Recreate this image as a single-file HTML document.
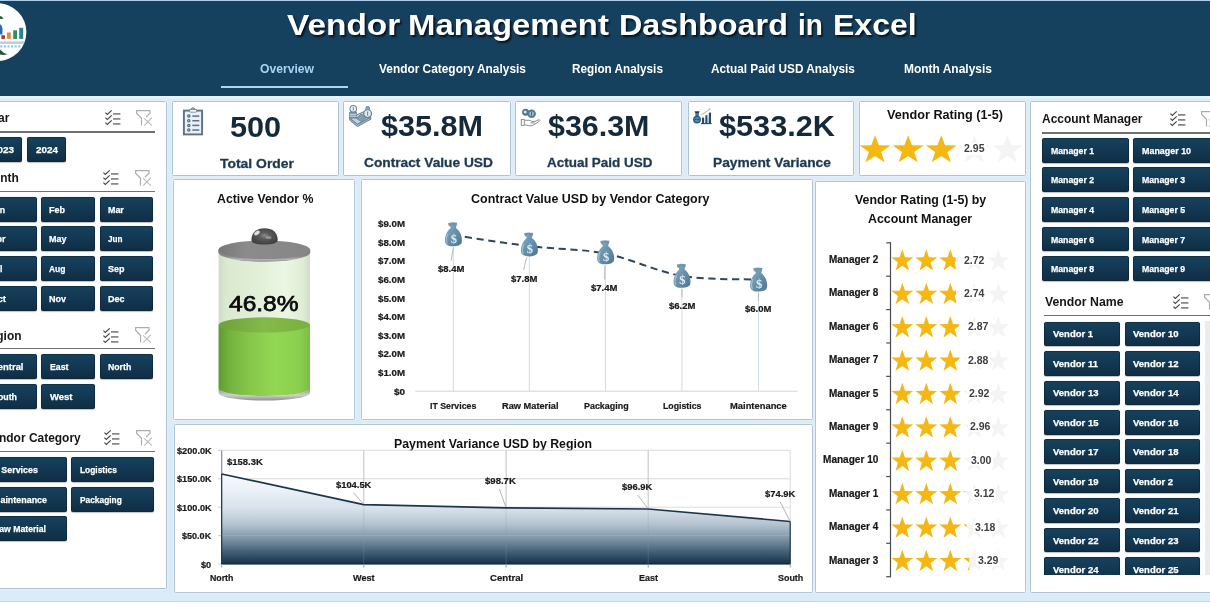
<!DOCTYPE html>
<html lang="en"><head><meta charset="utf-8"><title>Vendor Management Dashboard in Excel</title>
<style>
*{box-sizing:border-box;margin:0;padding:0}
html,body{width:1210px;height:612px;overflow:hidden;background:#fff}
body{font-family:"Liberation Sans",sans-serif;font-weight:700}
#page{position:relative;width:1210px;height:612px;overflow:hidden;will-change:transform}
.bg{position:absolute;left:0;top:0;width:1210px;height:602px;background:#dcebf8}
.hdr{position:absolute;left:0;top:0;width:1210px;height:95.5px;background:#16415e;border-top:1.5px solid #a9cbe6;box-shadow:0 0 0 0 #000, 0 2.5px 0 0 #e7f3fc}
.panel{position:absolute;background:#fff;border:1px solid #adc3d0;box-shadow:0 0 0 0.8px #e6f0f9;border-radius:1.5px}
.panel.c{border-color:#b1c6d3}
.btn{position:absolute;border-radius:2.5px;background:linear-gradient(#17425c,#133954 45%,#102d44);box-shadow:inset 0 0 0 0.6px rgba(10,30,48,.8),0 0.5px 1px rgba(0,0,0,.25)}
.t{position:absolute;white-space:nowrap;transform-origin:0 50%;display:block}
.hl{position:absolute;height:1.6px;background:#5a5f63}
svg{position:absolute;left:0;top:0;overflow:visible}
.clip{position:absolute;overflow:hidden}
.bl{-webkit-text-stroke:0.25px #fff}
.cl{-webkit-text-stroke:0.22px #1a1a1a}
.kl{-webkit-text-stroke:0.3px #1d3a52}

</style></head>
<body>
<div id="page">
<div class="bg"></div>
<div class="hdr"></div>
<div style="position:absolute;left:0;top:600.8px;width:1210px;height:1.4px;background:#c6d9e6"></div>
<svg width="60" height="70" viewBox="0 0 60 70">
<defs><clipPath id="lg"><circle cx="-2.5" cy="32.1" r="28.9"/></clipPath></defs>
<circle cx="-2.5" cy="32.1" r="28.9" fill="#fdfeff"/>
<g clip-path="url(#lg)">
<path d="M0 24.3 Q2.6 25.5 2.5 30 L2.4 34.6 H0 Z" fill="#2c6bb3"/>
<rect x="1.3" y="35.2" width="3.6" height="3.7" fill="#b5323b"/>
<rect x="7" y="32.5" width="3.8" height="6.4" fill="#e38c3c"/>
<rect x="13.2" y="30.3" width="3.8" height="8.6" fill="#2f8f5f"/>
<rect x="19.2" y="27.8" width="4" height="11.1" fill="#2a7f9e"/>
<rect x="0" y="41.6" width="24" height="2" fill="#6a6fa8" opacity=".55"/>
<rect x="0" y="42.3" width="24" height="0.6" fill="#fff" opacity=".5"/>
<g fill="#7cc6ea"><rect x="0.3" y="45.4" width="2" height="2"/><rect x="3.9" y="45.4" width="2" height="2"/><rect x="7.5" y="45.4" width="2" height="2"/><rect x="11.1" y="45.4" width="2" height="2"/><rect x="14.7" y="45.4" width="2" height="2"/><rect x="18.3" y="45.4" width="2" height="2"/></g>
<path d="M0 16 Q2.5 16.4 3.4 18.4 Q1.5 19.2 0 18.8 Z" fill="#2a5a3b"/>
<path d="M0 49.4 Q3 53 7.6 54.2 Q3.5 55.6 0 54.6 Z" fill="#2d4f3b"/>
</g></svg>
<h1 style="margin:0;font:inherit">
<span class="t" style="left:287.00px;top:10px;font-size:29.8px;line-height:29.8px;color:#fff;transform:scaleX(1.1215);text-shadow:1.5px 2px 2px rgba(0,0,0,.7);">Vendor</span>
<span class="t" style="left:408.40px;top:10px;font-size:29.8px;line-height:29.8px;color:#fff;transform:scaleX(1.1030);text-shadow:1.5px 2px 2px rgba(0,0,0,.7);">Management</span>
<span class="t" style="left:619.00px;top:10px;font-size:29.8px;line-height:29.8px;color:#fff;transform:scaleX(1.0854);text-shadow:1.5px 2px 2px rgba(0,0,0,.7);">Dashboard</span>
<span class="t" style="left:797.80px;top:10px;font-size:29.8px;line-height:29.8px;color:#fff;transform:scaleX(0.9351);text-shadow:1.5px 2px 2px rgba(0,0,0,.7);">in</span>
<span class="t" style="left:833.40px;top:10px;font-size:29.8px;line-height:29.8px;color:#fff;transform:scaleX(1.0754);text-shadow:1.5px 2px 2px rgba(0,0,0,.7);">Excel</span>
</h1>
<span class="t" style="left:260.00px;top:62px;font-size:13.4px;line-height:13.4px;color:#a8d3f4;transform:scaleX(0.9056);">Overview</span>
<span class="t" style="left:378.50px;top:62px;font-size:13.4px;line-height:13.4px;color:#fff;transform:scaleX(0.8879);">Vendor Category Analysis</span>
<span class="t" style="left:572.00px;top:62px;font-size:13.4px;line-height:13.4px;color:#fff;transform:scaleX(0.8768);">Region Analysis</span>
<span class="t" style="left:710.50px;top:62px;font-size:13.4px;line-height:13.4px;color:#fff;transform:scaleX(0.8816);">Actual Paid USD Analysis</span>
<span class="t" style="left:904.00px;top:62px;font-size:13.4px;line-height:13.4px;color:#fff;transform:scaleX(0.8929);">Month Analysis</span>
<div style="position:absolute;left:221px;top:85.6px;width:127px;height:2px;background:#acd6f6"></div>
<div class="panel" style="left:-5px;top:100.9px;width:172.0px;height:488.0px;"></div>
<div class="panel" style="left:172.2px;top:100.95px;width:166.40000000000003px;height:74.89999999999999px;"></div>
<div class="panel" style="left:343.05px;top:100.95px;width:167.84999999999997px;height:74.89999999999999px;"></div>
<div class="panel" style="left:515.4px;top:100.95px;width:166.5px;height:74.89999999999999px;"></div>
<div class="panel" style="left:688.0px;top:100.95px;width:165.89999999999998px;height:74.89999999999999px;"></div>
<div class="panel" style="left:858.8px;top:100.95px;width:167.20000000000005px;height:74.89999999999999px;"></div>
<div class="panel c" style="left:173.0px;top:179.1px;width:182.10000000000002px;height:241.35px;"></div>
<div class="panel c" style="left:360.9px;top:179.1px;width:451.9px;height:241.35px;"></div>
<div class="panel c" style="left:815.2px;top:180.9px;width:211.29999999999995px;height:411.9px;"></div>
<div class="panel c" style="left:174.0px;top:423.9px;width:638.8px;height:168.89999999999998px;"></div>
<div class="panel" style="left:1030.0px;top:100.9px;width:186.0px;height:491.9px;"></div>
<span class="t" style="left:230.20px;top:113px;font-size:28.7px;line-height:28.7px;color:#14293a;transform:scaleX(1.0682);">500</span>
<span class="t kl" style="left:219.50px;top:158px;font-size:12.9px;line-height:12.9px;color:#1d3a52;transform:scaleX(1.0793);">Total Order</span>
<span class="t" style="left:381.40px;top:112px;font-size:28.7px;line-height:28.7px;color:#14293a;transform:scaleX(1.0657);">$35.8M</span>
<span class="t kl" style="left:364.00px;top:157px;font-size:12.9px;line-height:12.9px;color:#1d3a52;transform:scaleX(1.0650);">Contract Value USD</span>
<span class="t" style="left:547.65px;top:112px;font-size:28.7px;line-height:28.7px;color:#14293a;transform:scaleX(1.0604);">$36.3M</span>
<span class="t kl" style="left:547.25px;top:157px;font-size:12.9px;line-height:12.9px;color:#1d3a52;transform:scaleX(1.0438);">Actual Paid USD</span>
<span class="t" style="left:718.80px;top:112px;font-size:28.7px;line-height:28.7px;color:#14293a;transform:scaleX(1.0693);">$533.2K</span>
<span class="t kl" style="left:713.00px;top:157px;font-size:12.9px;line-height:12.9px;color:#1d3a52;transform:scaleX(1.0686);">Payment Variance</span>
<span class="t" style="left:887.00px;top:109px;font-size:12.8px;line-height:12.8px;color:#111;transform:scaleX(0.9883);">Vendor Rating (1-5)</span>
<span class="t" style="left:-16.12px;top:112px;font-size:12.6px;line-height:12.6px;color:#161616;transform:scaleX(0.9500);">Year</span>
<svg style="left:104.8px;top:110px" width="16" height="16" viewBox="0 0 16 16" fill="none" stroke-linecap="butt" stroke-linejoin="miter"><path d="M0.4 2.6 L2.3 4.4 L6.7 0.4" stroke="#454545" stroke-width="1.15"/><path d="M8 3.9 H15.4" stroke="#7c7c7c" stroke-width="1.6"/><path d="M0.4 7.6 L2.3 9.4 L6.7 5.4" stroke="#454545" stroke-width="1.15"/><path d="M8 8.9 H15.4" stroke="#7c7c7c" stroke-width="1.6"/><path d="M0.4 12.6 L2.3 14.4 L6.7 10.4" stroke="#454545" stroke-width="1.15"/><path d="M8 13.9 H15.4" stroke="#7c7c7c" stroke-width="1.6"/></svg>
<svg style="left:136.3px;top:109.7px" width="17" height="17" viewBox="0 0 17 17" fill="none" stroke="#acacac" stroke-width="1.15" stroke-linejoin="miter" stroke-linecap="butt"><path d="M5.5 15.4 V8.3 L0.6 3.2 V0.6 H14 V3.2 L10 7.2"/><path d="M8.2 8.4 L15.9 15.6 M15.9 7.6 L8.2 15.6" stroke-width="1.1" stroke="#b9b9b9"/></svg>
<div class="hl" style="left:-5px;top:131.25px;width:159.6px;height:1.5px;background:#6f7174"></div>
<div class="btn" style="left:-16.5px;top:137.1px;width:38.9px;height:25.0px;"></div>
<span class="t bl" style="left:-8.00px;top:145px;font-size:9.5px;line-height:9.5px;color:#fff;transform:scaleX(1.0408);">2023</span>
<div class="btn" style="left:27px;top:137.1px;width:38.900000000000006px;height:25.0px;"></div>
<span class="t bl" style="left:35.50px;top:145px;font-size:9.5px;line-height:9.5px;color:#fff;transform:scaleX(1.0408);">2024</span>
<span class="t" style="left:-17.01px;top:172px;font-size:12.6px;line-height:12.6px;color:#161616;transform:scaleX(0.9500);">Month</span>
<svg style="left:103.4px;top:170.2px" width="16" height="16" viewBox="0 0 16 16" fill="none" stroke-linecap="butt" stroke-linejoin="miter"><path d="M0.4 2.6 L2.3 4.4 L6.7 0.4" stroke="#454545" stroke-width="1.15"/><path d="M8 3.9 H15.4" stroke="#7c7c7c" stroke-width="1.6"/><path d="M0.4 7.6 L2.3 9.4 L6.7 5.4" stroke="#454545" stroke-width="1.15"/><path d="M8 8.9 H15.4" stroke="#7c7c7c" stroke-width="1.6"/><path d="M0.4 12.6 L2.3 14.4 L6.7 10.4" stroke="#454545" stroke-width="1.15"/><path d="M8 13.9 H15.4" stroke="#7c7c7c" stroke-width="1.6"/></svg>
<svg style="left:134.5px;top:170px" width="17" height="17" viewBox="0 0 17 17" fill="none" stroke="#acacac" stroke-width="1.15" stroke-linejoin="miter" stroke-linecap="butt"><path d="M5.5 15.4 V8.3 L0.6 3.2 V0.6 H14 V3.2 L10 7.2"/><path d="M8.2 8.4 L15.9 15.6 M15.9 7.6 L8.2 15.6" stroke-width="1.1" stroke="#b9b9b9"/></svg>
<div class="hl" style="left:-5px;top:190.95px;width:159.6px;height:1.5px;background:#6f7174"></div>
<div class="btn" style="left:-17.7px;top:196.8px;width:54.5px;height:25.099999999999994px;"></div>
<span class="t bl" style="left:-9.70px;top:205px;font-size:9.8px;line-height:9.8px;color:#fff;transform:scaleX(0.8873);">Jan</span>
<div class="btn" style="left:41.4px;top:196.8px;width:53.699999999999996px;height:25.099999999999994px;"></div>
<span class="t bl" style="left:49.40px;top:205px;font-size:9.8px;line-height:9.8px;color:#fff;transform:scaleX(0.9172);">Feb</span>
<div class="btn" style="left:99.8px;top:196.8px;width:53.7px;height:25.099999999999994px;"></div>
<span class="t bl" style="left:107.80px;top:205px;font-size:9.8px;line-height:9.8px;color:#fff;transform:scaleX(0.9058);">Mar</span>
<div class="btn" style="left:-17.7px;top:226.4px;width:54.5px;height:24.900000000000006px;"></div>
<span class="t bl" style="left:-9.70px;top:234px;font-size:9.8px;line-height:9.8px;color:#fff;transform:scaleX(0.9196);">Apr</span>
<div class="btn" style="left:41.4px;top:226.4px;width:53.699999999999996px;height:24.900000000000006px;"></div>
<span class="t bl" style="left:49.40px;top:234px;font-size:9.8px;line-height:9.8px;color:#fff;transform:scaleX(0.9181);">May</span>
<div class="btn" style="left:99.8px;top:226.4px;width:53.7px;height:24.900000000000006px;"></div>
<span class="t bl" style="left:107.80px;top:234px;font-size:9.8px;line-height:9.8px;color:#fff;transform:scaleX(0.8312);">Jun</span>
<div class="btn" style="left:-17.7px;top:255.9px;width:54.5px;height:24.900000000000006px;"></div>
<span class="t bl" style="left:-9.70px;top:264px;font-size:9.8px;line-height:9.8px;color:#fff;transform:scaleX(0.8827);">Jul</span>
<div class="btn" style="left:41.4px;top:255.9px;width:53.699999999999996px;height:24.900000000000006px;"></div>
<span class="t bl" style="left:49.40px;top:264px;font-size:9.8px;line-height:9.8px;color:#fff;transform:scaleX(0.8656);">Aug</span>
<div class="btn" style="left:99.8px;top:255.9px;width:53.7px;height:24.900000000000006px;"></div>
<span class="t bl" style="left:107.80px;top:264px;font-size:9.8px;line-height:9.8px;color:#fff;transform:scaleX(0.9175);">Sep</span>
<div class="btn" style="left:-17.7px;top:285.5px;width:54.5px;height:25.0px;"></div>
<span class="t bl" style="left:-9.70px;top:294px;font-size:9.8px;line-height:9.8px;color:#fff;transform:scaleX(0.9806);">Oct</span>
<div class="btn" style="left:41.4px;top:285.5px;width:53.699999999999996px;height:25.0px;"></div>
<span class="t bl" style="left:49.40px;top:294px;font-size:9.8px;line-height:9.8px;color:#fff;transform:scaleX(0.9178);">Nov</span>
<div class="btn" style="left:99.8px;top:285.5px;width:53.7px;height:25.0px;"></div>
<span class="t bl" style="left:107.80px;top:294px;font-size:9.8px;line-height:9.8px;color:#fff;transform:scaleX(0.9175);">Dec</span>
<span class="t" style="left:-18.68px;top:330px;font-size:12.6px;line-height:12.6px;color:#161616;transform:scaleX(0.9500);">Region</span>
<svg style="left:103px;top:327.5px" width="16" height="16" viewBox="0 0 16 16" fill="none" stroke-linecap="butt" stroke-linejoin="miter"><path d="M0.4 2.6 L2.3 4.4 L6.7 0.4" stroke="#454545" stroke-width="1.15"/><path d="M8 3.9 H15.4" stroke="#7c7c7c" stroke-width="1.6"/><path d="M0.4 7.6 L2.3 9.4 L6.7 5.4" stroke="#454545" stroke-width="1.15"/><path d="M8 8.9 H15.4" stroke="#7c7c7c" stroke-width="1.6"/><path d="M0.4 12.6 L2.3 14.4 L6.7 10.4" stroke="#454545" stroke-width="1.15"/><path d="M8 13.9 H15.4" stroke="#7c7c7c" stroke-width="1.6"/></svg>
<svg style="left:134.6px;top:327.3px" width="17" height="17" viewBox="0 0 17 17" fill="none" stroke="#acacac" stroke-width="1.15" stroke-linejoin="miter" stroke-linecap="butt"><path d="M5.5 15.4 V8.3 L0.6 3.2 V0.6 H14 V3.2 L10 7.2"/><path d="M8.2 8.4 L15.9 15.6 M15.9 7.6 L8.2 15.6" stroke-width="1.1" stroke="#b9b9b9"/></svg>
<div class="hl" style="left:-5px;top:347.85px;width:159.6px;height:1.5px;background:#6f7174"></div>
<div class="btn" style="left:-17.7px;top:354px;width:54.5px;height:24.899999999999977px;"></div>
<span class="t bl" style="left:-9.50px;top:362px;font-size:9.8px;line-height:9.8px;color:#fff;transform:scaleX(0.9626);">Central</span>
<div class="btn" style="left:41.4px;top:354px;width:53.699999999999996px;height:24.899999999999977px;"></div>
<span class="t bl" style="left:49.70px;top:362px;font-size:9.8px;line-height:9.8px;color:#fff;transform:scaleX(0.8898);">East</span>
<div class="btn" style="left:99.8px;top:354px;width:53.7px;height:24.899999999999977px;"></div>
<span class="t bl" style="left:108.20px;top:362px;font-size:9.8px;line-height:9.8px;color:#fff;transform:scaleX(0.8883);">North</span>
<div class="btn" style="left:-17.7px;top:383.6px;width:54.5px;height:25.0px;"></div>
<span class="t bl" style="left:-8.30px;top:392px;font-size:9.8px;line-height:9.8px;color:#fff;transform:scaleX(0.8998);">South</span>
<div class="btn" style="left:41.4px;top:383.6px;width:53.699999999999996px;height:25.0px;"></div>
<span class="t bl" style="left:49.70px;top:392px;font-size:9.8px;line-height:9.8px;color:#fff;transform:scaleX(0.9687);">West</span>
<span class="t" style="left:-15.36px;top:432px;font-size:12.6px;line-height:12.6px;color:#161616;transform:scaleX(0.9500);">Vendor Category</span>
<svg style="left:104.3px;top:430.2px" width="16" height="16" viewBox="0 0 16 16" fill="none" stroke-linecap="butt" stroke-linejoin="miter"><path d="M0.4 2.6 L2.3 4.4 L6.7 0.4" stroke="#454545" stroke-width="1.15"/><path d="M8 3.9 H15.4" stroke="#7c7c7c" stroke-width="1.6"/><path d="M0.4 7.6 L2.3 9.4 L6.7 5.4" stroke="#454545" stroke-width="1.15"/><path d="M8 8.9 H15.4" stroke="#7c7c7c" stroke-width="1.6"/><path d="M0.4 12.6 L2.3 14.4 L6.7 10.4" stroke="#454545" stroke-width="1.15"/><path d="M8 13.9 H15.4" stroke="#7c7c7c" stroke-width="1.6"/></svg>
<svg style="left:136.3px;top:430px" width="17" height="17" viewBox="0 0 17 17" fill="none" stroke="#acacac" stroke-width="1.15" stroke-linejoin="miter" stroke-linecap="butt"><path d="M5.5 15.4 V8.3 L0.6 3.2 V0.6 H14 V3.2 L10 7.2"/><path d="M8.2 8.4 L15.9 15.6 M15.9 7.6 L8.2 15.6" stroke-width="1.1" stroke="#b9b9b9"/></svg>
<div class="hl" style="left:-5px;top:450.65px;width:159.7px;height:1.5px;background:#6f7174"></div>
<div class="btn" style="left:-15.9px;top:456.8px;width:82.4px;height:25.0px;"></div>
<span class="t bl" style="left:-8.70px;top:465px;font-size:9.8px;line-height:9.8px;color:#fff;transform:scaleX(0.9064);">IT Services</span>
<div class="btn" style="left:71px;top:456.8px;width:82.5px;height:25.0px;"></div>
<span class="t bl" style="left:79.70px;top:465px;font-size:9.8px;line-height:9.8px;color:#fff;transform:scaleX(0.8554);">Logistics</span>
<div class="btn" style="left:-15.9px;top:486.5px;width:82.4px;height:25.100000000000023px;"></div>
<span class="t bl" style="left:-6.80px;top:495px;font-size:9.8px;line-height:9.8px;color:#fff;transform:scaleX(0.9100);">Maintenance</span>
<div class="btn" style="left:71px;top:486.5px;width:82.5px;height:25.100000000000023px;"></div>
<span class="t bl" style="left:79.70px;top:495px;font-size:9.8px;line-height:9.8px;color:#fff;transform:scaleX(0.8531);">Packaging</span>
<div class="btn" style="left:-15.9px;top:516.3px;width:82.4px;height:24.800000000000068px;"></div>
<span class="t bl" style="left:-7.10px;top:524px;font-size:9.8px;line-height:9.8px;color:#fff;transform:scaleX(0.8844);">Raw Material</span>
<span class="t" style="left:1042.10px;top:113px;font-size:12.6px;line-height:12.6px;color:#161616;transform:scaleX(0.9507);">Account Manager</span>
<svg style="left:1170.4px;top:110.9px" width="16" height="16" viewBox="0 0 16 16" fill="none" stroke-linecap="butt" stroke-linejoin="miter"><path d="M0.4 2.6 L2.3 4.4 L6.7 0.4" stroke="#454545" stroke-width="1.15"/><path d="M8 3.9 H15.4" stroke="#7c7c7c" stroke-width="1.6"/><path d="M0.4 7.6 L2.3 9.4 L6.7 5.4" stroke="#454545" stroke-width="1.15"/><path d="M8 8.9 H15.4" stroke="#7c7c7c" stroke-width="1.6"/><path d="M0.4 12.6 L2.3 14.4 L6.7 10.4" stroke="#454545" stroke-width="1.15"/><path d="M8 13.9 H15.4" stroke="#7c7c7c" stroke-width="1.6"/></svg>
<svg style="left:1201.3px;top:110.7px" width="17" height="17" viewBox="0 0 17 17" fill="none" stroke="#acacac" stroke-width="1.15" stroke-linejoin="miter" stroke-linecap="butt"><path d="M5.5 15.4 V8.3 L0.6 3.2 V0.6 H14 V3.2 L10 7.2"/><path d="M8.2 8.4 L15.9 15.6 M15.9 7.6 L8.2 15.6" stroke-width="1.1" stroke="#b9b9b9"/></svg>
<div class="hl" style="left:1041.7px;top:132.25px;width:174.29999999999995px;height:1.5px;background:#6f7174"></div>
<div class="btn" style="left:1042.1px;top:137.8px;width:86.60000000000014px;height:24.899999999999977px;"></div>
<span class="t bl" style="left:1050.60px;top:146px;font-size:9.8px;line-height:9.8px;color:#fff;transform:scaleX(0.8894);">Manager 1</span>
<div class="btn" style="left:1133.3px;top:137.8px;width:86.70000000000005px;height:24.899999999999977px;"></div>
<span class="t bl" style="left:1141.80px;top:146px;font-size:9.8px;line-height:9.8px;color:#fff;transform:scaleX(0.9101);">Manager 10</span>
<div class="btn" style="left:1042.1px;top:167.4px;width:86.60000000000014px;height:24.899999999999977px;"></div>
<span class="t bl" style="left:1050.60px;top:175px;font-size:9.8px;line-height:9.8px;color:#fff;transform:scaleX(0.8894);">Manager 2</span>
<div class="btn" style="left:1133.3px;top:167.4px;width:86.70000000000005px;height:24.899999999999977px;"></div>
<span class="t bl" style="left:1141.80px;top:175px;font-size:9.8px;line-height:9.8px;color:#fff;transform:scaleX(0.8894);">Manager 3</span>
<div class="btn" style="left:1042.1px;top:197.0px;width:86.60000000000014px;height:24.899999999999977px;"></div>
<span class="t bl" style="left:1050.60px;top:205px;font-size:9.8px;line-height:9.8px;color:#fff;transform:scaleX(0.8894);">Manager 4</span>
<div class="btn" style="left:1133.3px;top:197.0px;width:86.70000000000005px;height:24.899999999999977px;"></div>
<span class="t bl" style="left:1141.80px;top:205px;font-size:9.8px;line-height:9.8px;color:#fff;transform:scaleX(0.8894);">Manager 5</span>
<div class="btn" style="left:1042.1px;top:226.60000000000002px;width:86.60000000000014px;height:24.899999999999977px;"></div>
<span class="t bl" style="left:1050.60px;top:235px;font-size:9.8px;line-height:9.8px;color:#fff;transform:scaleX(0.8894);">Manager 6</span>
<div class="btn" style="left:1133.3px;top:226.60000000000002px;width:86.70000000000005px;height:24.899999999999977px;"></div>
<span class="t bl" style="left:1141.80px;top:235px;font-size:9.8px;line-height:9.8px;color:#fff;transform:scaleX(0.8894);">Manager 7</span>
<div class="btn" style="left:1042.1px;top:256.20000000000005px;width:86.60000000000014px;height:24.899999999999977px;"></div>
<span class="t bl" style="left:1050.60px;top:264px;font-size:9.8px;line-height:9.8px;color:#fff;transform:scaleX(0.8894);">Manager 8</span>
<div class="btn" style="left:1133.3px;top:256.20000000000005px;width:86.70000000000005px;height:24.899999999999977px;"></div>
<span class="t bl" style="left:1141.80px;top:264px;font-size:9.8px;line-height:9.8px;color:#fff;transform:scaleX(0.8894);">Manager 9</span>
<span class="t" style="left:1044.50px;top:296px;font-size:12.6px;line-height:12.6px;color:#161616;transform:scaleX(0.9750);">Vendor Name</span>
<svg style="left:1173.2px;top:294.3px" width="16" height="16" viewBox="0 0 16 16" fill="none" stroke-linecap="butt" stroke-linejoin="miter"><path d="M0.4 2.6 L2.3 4.4 L6.7 0.4" stroke="#454545" stroke-width="1.15"/><path d="M8 3.9 H15.4" stroke="#7c7c7c" stroke-width="1.6"/><path d="M0.4 7.6 L2.3 9.4 L6.7 5.4" stroke="#454545" stroke-width="1.15"/><path d="M8 8.9 H15.4" stroke="#7c7c7c" stroke-width="1.6"/><path d="M0.4 12.6 L2.3 14.4 L6.7 10.4" stroke="#454545" stroke-width="1.15"/><path d="M8 13.9 H15.4" stroke="#7c7c7c" stroke-width="1.6"/></svg>
<svg style="left:1204.4px;top:294.1px" width="17" height="17" viewBox="0 0 17 17" fill="none" stroke="#acacac" stroke-width="1.15" stroke-linejoin="miter" stroke-linecap="butt"><path d="M5.5 15.4 V8.3 L0.6 3.2 V0.6 H14 V3.2 L10 7.2"/><path d="M8.2 8.4 L15.9 15.6 M15.9 7.6 L8.2 15.6" stroke-width="1.1" stroke="#b9b9b9"/></svg>
<div class="hl" style="left:1044.4px;top:314.55px;width:171.5999999999999px;height:1.5px;background:#6f7174"></div>
<div class="clip" style="left:1040px;top:318px;width:170px;height:256.7px">
<div class="btn" style="left:4.400000000000091px;top:3.6000000000000227px;width:75.5px;height:24.600000000000023px;"></div>
<span class="t bl" style="left:12.70px;top:11px;font-size:9.8px;line-height:9.8px;color:#fff;transform:scaleX(0.9699);">Vendor 1</span>
<div class="btn" style="left:84.59999999999991px;top:3.6000000000000227px;width:75.0px;height:24.600000000000023px;"></div>
<span class="t bl" style="left:92.90px;top:11px;font-size:9.8px;line-height:9.8px;color:#fff;transform:scaleX(0.9719);">Vendor 10</span>
<div class="btn" style="left:4.400000000000091px;top:33.05000000000001px;width:75.5px;height:24.600000000000023px;"></div>
<span class="t bl" style="left:12.70px;top:41px;font-size:9.8px;line-height:9.8px;color:#fff;transform:scaleX(0.9717);">Vendor 11</span>
<div class="btn" style="left:84.59999999999991px;top:33.05000000000001px;width:75.0px;height:24.600000000000023px;"></div>
<span class="t bl" style="left:92.90px;top:41px;font-size:9.8px;line-height:9.8px;color:#fff;transform:scaleX(0.9719);">Vendor 12</span>
<div class="btn" style="left:4.400000000000091px;top:62.5px;width:75.5px;height:24.600000000000023px;"></div>
<span class="t bl" style="left:12.70px;top:70px;font-size:9.8px;line-height:9.8px;color:#fff;transform:scaleX(0.9719);">Vendor 13</span>
<div class="btn" style="left:84.59999999999991px;top:62.5px;width:75.0px;height:24.600000000000023px;"></div>
<span class="t bl" style="left:92.90px;top:70px;font-size:9.8px;line-height:9.8px;color:#fff;transform:scaleX(0.9719);">Vendor 14</span>
<div class="btn" style="left:4.400000000000091px;top:91.95000000000005px;width:75.5px;height:24.600000000000023px;"></div>
<span class="t bl" style="left:12.70px;top:100px;font-size:9.8px;line-height:9.8px;color:#fff;transform:scaleX(0.9719);">Vendor 15</span>
<div class="btn" style="left:84.59999999999991px;top:91.95000000000005px;width:75.0px;height:24.600000000000023px;"></div>
<span class="t bl" style="left:92.90px;top:100px;font-size:9.8px;line-height:9.8px;color:#fff;transform:scaleX(0.9719);">Vendor 16</span>
<div class="btn" style="left:4.400000000000091px;top:121.40000000000003px;width:75.5px;height:24.600000000000023px;"></div>
<span class="t bl" style="left:12.70px;top:129px;font-size:9.8px;line-height:9.8px;color:#fff;transform:scaleX(0.9719);">Vendor 17</span>
<div class="btn" style="left:84.59999999999991px;top:121.40000000000003px;width:75.0px;height:24.600000000000023px;"></div>
<span class="t bl" style="left:92.90px;top:129px;font-size:9.8px;line-height:9.8px;color:#fff;transform:scaleX(0.9719);">Vendor 18</span>
<div class="btn" style="left:4.400000000000091px;top:150.85000000000002px;width:75.5px;height:24.600000000000023px;"></div>
<span class="t bl" style="left:12.70px;top:159px;font-size:9.8px;line-height:9.8px;color:#fff;transform:scaleX(0.9719);">Vendor 19</span>
<div class="btn" style="left:84.59999999999991px;top:150.85000000000002px;width:75.0px;height:24.600000000000023px;"></div>
<span class="t bl" style="left:92.90px;top:159px;font-size:9.8px;line-height:9.8px;color:#fff;transform:scaleX(0.9699);">Vendor 2</span>
<div class="btn" style="left:4.400000000000091px;top:180.3px;width:75.5px;height:24.599999999999966px;"></div>
<span class="t bl" style="left:12.70px;top:188px;font-size:9.8px;line-height:9.8px;color:#fff;transform:scaleX(0.9719);">Vendor 20</span>
<div class="btn" style="left:84.59999999999991px;top:180.3px;width:75.0px;height:24.599999999999966px;"></div>
<span class="t bl" style="left:92.90px;top:188px;font-size:9.8px;line-height:9.8px;color:#fff;transform:scaleX(0.9719);">Vendor 21</span>
<div class="btn" style="left:4.400000000000091px;top:209.75px;width:75.5px;height:24.600000000000023px;"></div>
<span class="t bl" style="left:12.70px;top:218px;font-size:9.8px;line-height:9.8px;color:#fff;transform:scaleX(0.9719);">Vendor 22</span>
<div class="btn" style="left:84.59999999999991px;top:209.75px;width:75.0px;height:24.600000000000023px;"></div>
<span class="t bl" style="left:92.90px;top:218px;font-size:9.8px;line-height:9.8px;color:#fff;transform:scaleX(0.9719);">Vendor 23</span>
<div class="btn" style="left:4.400000000000091px;top:239.20000000000005px;width:75.5px;height:24.600000000000023px;"></div>
<span class="t bl" style="left:12.70px;top:247px;font-size:9.8px;line-height:9.8px;color:#fff;transform:scaleX(0.9719);">Vendor 24</span>
<div class="btn" style="left:84.59999999999991px;top:239.20000000000005px;width:75.0px;height:24.600000000000023px;"></div>
<span class="t bl" style="left:92.90px;top:247px;font-size:9.8px;line-height:9.8px;color:#fff;transform:scaleX(0.9719);">Vendor 25</span>
</div>
<div style="position:absolute;left:1204.6px;top:321px;width:6px;height:254px;background:#ececec"></div>
<span class="t" style="left:216.75px;top:193px;font-size:12.8px;line-height:12.8px;color:#111;transform:scaleX(0.9622);">Active Vendor %</span>
<svg width="1210" height="612" viewBox="0 0 1210 612">
<defs>
<linearGradient id="gGlass" x1="0" x2="1" y1="0" y2="0">
 <stop offset="0" stop-color="#cfdcc6"/><stop offset=".08" stop-color="#dbe9d0"/><stop offset=".5" stop-color="#e4f1da"/><stop offset=".72" stop-color="#ecf7e3"/><stop offset=".93" stop-color="#dfecd4"/><stop offset="1" stop-color="#d0ddc7"/>
</linearGradient>
<linearGradient id="gGreen" x1="0" x2="1" y1="0" y2="0">
 <stop offset="0" stop-color="#5f9a33"/><stop offset=".12" stop-color="#74b23e"/><stop offset=".35" stop-color="#86c84a"/><stop offset=".62" stop-color="#93d853"/><stop offset=".9" stop-color="#8ace4d"/><stop offset="1" stop-color="#7bbd43"/>
</linearGradient>
<linearGradient id="gGreenTop" x1="0" x2="1" y1="0" y2="0">
 <stop offset="0" stop-color="#6aa238"/><stop offset=".5" stop-color="#84ba49"/><stop offset="1" stop-color="#78b140"/>
</linearGradient>
<linearGradient id="gRim" x1="0" x2="0" y1="0" y2="1">
 <stop offset="0" stop-color="#777"/><stop offset=".55" stop-color="#8a8a8a"/><stop offset=".8" stop-color="#b4b4b4"/><stop offset="1" stop-color="#8c8c8c"/>
</linearGradient>
<linearGradient id="gLid" x1="0" x2="1" y1="0" y2="0">
 <stop offset="0" stop-color="#777"/><stop offset=".3" stop-color="#8b8b8b"/><stop offset="1" stop-color="#868686"/>
</linearGradient>
<radialGradient id="gKnob" cx=".5" cy=".45" r=".6">
 <stop offset="0" stop-color="#8a8a8a"/><stop offset=".35" stop-color="#5a5a5a"/><stop offset="1" stop-color="#3d3d3d"/>
</radialGradient>
<linearGradient id="gBase" x1="0" x2="0" y1="0" y2="1">
 <stop offset="0" stop-color="#8d8d8d"/><stop offset=".55" stop-color="#cfcfcf"/><stop offset="1" stop-color="#8f8f8f"/>
</linearGradient>
</defs>
<!-- base rim -->
<path d="M218.6 388.5 V393 A45.7 7.6 0 0 0 310 393 V388.5 Z" fill="url(#gBase)"/>
<!-- glass -->
<path d="M218.6 252 V388.5 A45.7 7.6 0 0 0 310 388.5 V252 Z" fill="url(#gGlass)"/>
<!-- green liquid -->
<path d="M218.6 324.8 V388.5 A45.7 7.4 0 0 0 310 388.5 V324.8 Z" fill="url(#gGreen)"/>
<ellipse cx="264.3" cy="324.9" rx="45.7" ry="7.6" fill="url(#gGreenTop)"/>
<!-- lid -->
<path d="M218.4 249.8 V252.6 A45.9 9.2 0 0 0 310.2 252.6 V249.8 Z" fill="url(#gRim)"/>
<ellipse cx="264.3" cy="249.8" rx="45.9" ry="9.3" fill="url(#gLid)"/>
<!-- knob -->
<path d="M251.4 240 C251.4 232 257 228.3 264.5 228.3 C272 228.3 277.7 232 277.7 240 C277.7 243 272 244.6 264.5 244.6 C257 244.6 251.4 243 251.4 240 Z" fill="url(#gKnob)"/>
<ellipse cx="257" cy="233" rx="3.2" ry="1.8" fill="#fff" opacity=".8" transform="rotate(-35 257 233)"/>
<ellipse cx="268.5" cy="237.5" rx="3" ry="1.6" fill="#bbb" opacity=".55"/>
</svg>
<span class="t" style="left:228.90px;top:292px;font-size:22.9px;line-height:22.9px;color:#0a0a0a;font-weight:400;transform:scaleX(1.0721);-webkit-text-stroke:0.75px #0a0a0a;">46.8%</span>
<span class="t" style="left:471.35px;top:193px;font-size:12.8px;line-height:12.8px;color:#111;transform:scaleX(0.9748);">Contract Value USD by Vendor Category</span>
<span class="t cl" style="left:394.10px;top:388px;font-size:9.2px;line-height:9.2px;color:#1a1a1a;transform:scaleX(1.0870);">$0</span>
<span class="t cl" style="left:378.20px;top:369px;font-size:9.2px;line-height:9.2px;color:#1a1a1a;transform:scaleX(1.0557);">$1.0M</span>
<span class="t cl" style="left:378.20px;top:350px;font-size:9.2px;line-height:9.2px;color:#1a1a1a;transform:scaleX(1.0557);">$2.0M</span>
<span class="t cl" style="left:378.20px;top:332px;font-size:9.2px;line-height:9.2px;color:#1a1a1a;transform:scaleX(1.0557);">$3.0M</span>
<span class="t cl" style="left:378.20px;top:313px;font-size:9.2px;line-height:9.2px;color:#1a1a1a;transform:scaleX(1.0557);">$4.0M</span>
<span class="t cl" style="left:378.20px;top:295px;font-size:9.2px;line-height:9.2px;color:#1a1a1a;transform:scaleX(1.0557);">$5.0M</span>
<span class="t cl" style="left:378.20px;top:276px;font-size:9.2px;line-height:9.2px;color:#1a1a1a;transform:scaleX(1.0557);">$6.0M</span>
<span class="t cl" style="left:378.20px;top:257px;font-size:9.2px;line-height:9.2px;color:#1a1a1a;transform:scaleX(1.0557);">$7.0M</span>
<span class="t cl" style="left:378.20px;top:239px;font-size:9.2px;line-height:9.2px;color:#1a1a1a;transform:scaleX(1.0557);">$8.0M</span>
<span class="t cl" style="left:378.20px;top:220px;font-size:9.2px;line-height:9.2px;color:#1a1a1a;transform:scaleX(1.0557);">$9.0M</span>
<svg width="1210" height="612" viewBox="0 0 1210 612"><defs><linearGradient id="gBag" x1="0" x2="1" y1="0" y2="1"><stop offset="0" stop-color="#8fb2c8"/><stop offset=".45" stop-color="#6a94ae"/><stop offset="1" stop-color="#4b7792"/></linearGradient>
<g id="bag"><path d="M-5.2 -12.2 Q-0.5 -13.2 3.9 -12.3 L3.4 -9.6 Q2.6 -8.2 2.7 -7.2 C7.5 -3.6 9.4 2.5 8.4 7.4 C7.4 12.4 -6.8 12.6 -8 7.6 C-9.2 2.6 -7.2 -3.4 -2.6 -7.2 Q-2.4 -8.4 -4.6 -9.4 Z" fill="url(#gBag)"/>
<path d="M-4.9 -11.6 Q-0.5 -12.6 3.6 -11.8 L3.3 -10 Q-0.5 -10.8 -4.4 -9.9 Z" fill="#6f8ea2" opacity=".75"/>
<path d="M-5.5 -1 C-7.2 2.5 -7.2 6 -6.2 8.2" fill="none" stroke="#b4cddc" stroke-width="1.3" opacity=".7" stroke-linecap="round"/>
<text x="0.5" y="7.7" text-anchor="middle" font-family="Liberation Serif,serif" font-weight="700" font-size="12.5" fill="#eef5fa" opacity=".92">$</text></g></defs><path d="M415.2 391.2 H797.3" stroke="#d4d4d4" stroke-width="1"/><path d="M453.3 247.1 V391.2" stroke="#d5dde5" stroke-width="1.1"/><path d="M529.3 257.2 V391.2" stroke="#d5dde5" stroke-width="1.1"/><path d="M605.5 265.1 V391.2" stroke="#d5dde5" stroke-width="1.1"/><path d="M681.9 288.6 V391.2" stroke="#d5dde5" stroke-width="1.1"/><path d="M758.5 292.3 V391.2" stroke="#d5dde5" stroke-width="1.1"/><path d="M453.3 247.5 L451.2 260.5" stroke="#b9b9b9" stroke-width="1"/><path d="M526.6 257.5 L523.6 270" stroke="#b9b9b9" stroke-width="1"/><path d="M604.9 265.5 L604.6 279.5" stroke="#b9b9b9" stroke-width="1"/><path d="M682 289 L682 297" stroke="#b9b9b9" stroke-width="1"/><path d="M758.4 292.5 L758.4 301" stroke="#b9b9b9" stroke-width="1"/><path d="M453.3 235.1 C466.0 236.9 503.9 243.1 529.3 246.2 C554.7 249.3 580.1 248.7 605.5 253.6 C630.9 258.6 656.4 271.6 681.9 275.9 C707.4 280.2 745.7 279.0 758.5 279.6" fill="none" stroke="#33475a" stroke-width="2" stroke-dasharray="7.2 4.6"/><use href="#bag" x="453.3" y="235.1"/><use href="#bag" x="529.3" y="245.2"/><use href="#bag" x="605.5" y="253.1"/><use href="#bag" x="681.9" y="276.6"/><use href="#bag" x="758.5" y="280.3"/></svg>
<span class="t cl" style="left:438.45px;top:265px;font-size:9.2px;line-height:9.2px;color:#1a1a1a;transform:scaleX(1.0361);">$8.4M</span>
<span class="t cl" style="left:429.85px;top:401px;font-size:9.6px;line-height:9.6px;color:#1a1a1a;transform:scaleX(0.9134);">IT Services</span>
<span class="t cl" style="left:510.85px;top:275px;font-size:9.2px;line-height:9.2px;color:#1a1a1a;transform:scaleX(1.0361);">$7.8M</span>
<span class="t cl" style="left:501.55px;top:401px;font-size:9.6px;line-height:9.6px;color:#1a1a1a;transform:scaleX(0.9625);">Raw Material</span>
<span class="t cl" style="left:591.05px;top:284px;font-size:9.2px;line-height:9.2px;color:#1a1a1a;transform:scaleX(1.0361);">$7.4M</span>
<span class="t cl" style="left:583.60px;top:401px;font-size:9.6px;line-height:9.6px;color:#1a1a1a;transform:scaleX(0.9292);">Packaging</span>
<span class="t cl" style="left:669.05px;top:302px;font-size:9.2px;line-height:9.2px;color:#1a1a1a;transform:scaleX(1.0361);">$6.2M</span>
<span class="t cl" style="left:662.95px;top:401px;font-size:9.6px;line-height:9.6px;color:#1a1a1a;transform:scaleX(0.9135);">Logistics</span>
<span class="t cl" style="left:745.15px;top:305px;font-size:9.2px;line-height:9.2px;color:#1a1a1a;transform:scaleX(1.0361);">$6.0M</span>
<span class="t cl" style="left:730.20px;top:401px;font-size:9.6px;line-height:9.6px;color:#1a1a1a;transform:scaleX(0.9772);">Maintenance</span>
<svg width="1210" height="612" viewBox="0 0 1210 612"><path d="M875.05 135.20 L878.84 145.30 L890.40 145.51 L881.19 151.97 L884.54 162.20 L875.05 156.10 L865.56 162.20 L868.91 151.97 L859.70 145.51 L871.26 145.30ZM908.15 135.20 L911.94 145.30 L923.50 145.51 L914.29 151.97 L917.64 162.20 L908.15 156.10 L898.66 162.20 L902.01 151.97 L892.80 145.51 L904.36 145.30ZM941.25 135.20 L945.04 145.30 L956.60 145.51 L947.39 151.97 L950.74 162.20 L941.25 156.10 L931.76 162.20 L935.11 151.97 L925.90 145.51 L937.46 145.30ZM974.35 135.20 L978.14 145.30 L989.70 145.51 L980.49 151.97 L983.84 162.20 L974.35 156.10 L964.86 162.20 L968.21 151.97 L959.00 145.51 L970.56 145.30ZM1007.45 135.20 L1011.24 145.30 L1022.80 145.51 L1013.59 151.97 L1016.94 162.20 L1007.45 156.10 L997.96 162.20 L1001.31 151.97 L992.10 145.51 L1003.66 145.30Z" fill="#f4f4f4"/><clipPath id="sc1"><rect x="856.5" y="133.2" width="99.65" height="31"/></clipPath><path d="M875.05 135.20 L878.84 145.30 L890.40 145.51 L881.19 151.97 L884.54 162.20 L875.05 156.10 L865.56 162.20 L868.91 151.97 L859.70 145.51 L871.26 145.30ZM908.15 135.20 L911.94 145.30 L923.50 145.51 L914.29 151.97 L917.64 162.20 L908.15 156.10 L898.66 162.20 L902.01 151.97 L892.80 145.51 L904.36 145.30ZM941.25 135.20 L945.04 145.30 L956.60 145.51 L947.39 151.97 L950.74 162.20 L941.25 156.10 L931.76 162.20 L935.11 151.97 L925.90 145.51 L937.46 145.30ZM974.35 135.20 L978.14 145.30 L989.70 145.51 L980.49 151.97 L983.84 162.20 L974.35 156.10 L964.86 162.20 L968.21 151.97 L959.00 145.51 L970.56 145.30ZM1007.45 135.20 L1011.24 145.30 L1022.80 145.51 L1013.59 151.97 L1016.94 162.20 L1007.45 156.10 L997.96 162.20 L1001.31 151.97 L992.10 145.51 L1003.66 145.30Z" fill="#f5b812" clip-path="url(#sc1)"/></svg>
<div style="position:absolute;left:961.5px;top:143px;width:25.5px;height:11.5px;background:#fff"></div>
<span class="t" style="left:964.00px;top:144px;font-size:10.4px;line-height:10.4px;color:#404040;transform:scaleX(1.0134);">2.95</span>
<span class="t" style="left:854.65px;top:194px;font-size:12.8px;line-height:12.8px;color:#111;transform:scaleX(0.9664);">Vendor Rating (1-5) by</span>
<span class="t" style="left:867.90px;top:213px;font-size:12.8px;line-height:12.8px;color:#111;transform:scaleX(0.9703);">Account Manager</span>
<svg width="1210" height="612" viewBox="0 0 1210 612"><path d="M890.5 242.3 V577.2" stroke="#4d4d4d" stroke-width="1.2" fill="none"/><path d="M886.2 242.80 H890.5" stroke="#4d4d4d" stroke-width="1.2"/><path d="M886.2 276.19 H890.5" stroke="#4d4d4d" stroke-width="1.2"/><path d="M886.2 309.58 H890.5" stroke="#4d4d4d" stroke-width="1.2"/><path d="M886.2 342.97 H890.5" stroke="#4d4d4d" stroke-width="1.2"/><path d="M886.2 376.36 H890.5" stroke="#4d4d4d" stroke-width="1.2"/><path d="M886.2 409.75 H890.5" stroke="#4d4d4d" stroke-width="1.2"/><path d="M886.2 443.14 H890.5" stroke="#4d4d4d" stroke-width="1.2"/><path d="M886.2 476.53 H890.5" stroke="#4d4d4d" stroke-width="1.2"/><path d="M886.2 509.92 H890.5" stroke="#4d4d4d" stroke-width="1.2"/><path d="M886.2 543.31 H890.5" stroke="#4d4d4d" stroke-width="1.2"/><path d="M886.2 576.70 H890.5" stroke="#4d4d4d" stroke-width="1.2"/><path d="M902.30 249.30 L904.99 257.26 L913.20 257.44 L906.66 262.53 L909.04 270.60 L902.30 265.78 L895.56 270.60 L897.94 262.53 L891.40 257.44 L899.61 257.26ZM926.30 249.30 L928.99 257.26 L937.20 257.44 L930.66 262.53 L933.04 270.60 L926.30 265.78 L919.56 270.60 L921.94 262.53 L915.40 257.44 L923.61 257.26ZM950.30 249.30 L952.99 257.26 L961.20 257.44 L954.66 262.53 L957.04 270.60 L950.30 265.78 L943.56 270.60 L945.94 262.53 L939.40 257.44 L947.61 257.26ZM974.30 249.30 L976.99 257.26 L985.20 257.44 L978.66 262.53 L981.04 270.60 L974.30 265.78 L967.56 270.60 L969.94 262.53 L963.40 257.44 L971.61 257.26ZM998.30 249.30 L1000.99 257.26 L1009.20 257.44 L1002.66 262.53 L1005.04 270.60 L998.30 265.78 L991.56 270.60 L993.94 262.53 L987.40 257.44 L995.61 257.26Z" fill="#f4f4f4"/><clipPath id="sc2"><rect x="888.3" y="247.3" width="67.28" height="25.3"/></clipPath><path d="M902.30 249.30 L904.99 257.26 L913.20 257.44 L906.66 262.53 L909.04 270.60 L902.30 265.78 L895.56 270.60 L897.94 262.53 L891.40 257.44 L899.61 257.26ZM926.30 249.30 L928.99 257.26 L937.20 257.44 L930.66 262.53 L933.04 270.60 L926.30 265.78 L919.56 270.60 L921.94 262.53 L915.40 257.44 L923.61 257.26ZM950.30 249.30 L952.99 257.26 L961.20 257.44 L954.66 262.53 L957.04 270.60 L950.30 265.78 L943.56 270.60 L945.94 262.53 L939.40 257.44 L947.61 257.26ZM974.30 249.30 L976.99 257.26 L985.20 257.44 L978.66 262.53 L981.04 270.60 L974.30 265.78 L967.56 270.60 L969.94 262.53 L963.40 257.44 L971.61 257.26ZM998.30 249.30 L1000.99 257.26 L1009.20 257.44 L1002.66 262.53 L1005.04 270.60 L998.30 265.78 L991.56 270.60 L993.94 262.53 L987.40 257.44 L995.61 257.26Z" fill="#f5b812" clip-path="url(#sc2)"/><path d="M902.30 282.69 L904.99 290.65 L913.20 290.83 L906.66 295.92 L909.04 303.99 L902.30 299.17 L895.56 303.99 L897.94 295.92 L891.40 290.83 L899.61 290.65ZM926.30 282.69 L928.99 290.65 L937.20 290.83 L930.66 295.92 L933.04 303.99 L926.30 299.17 L919.56 303.99 L921.94 295.92 L915.40 290.83 L923.61 290.65ZM950.30 282.69 L952.99 290.65 L961.20 290.83 L954.66 295.92 L957.04 303.99 L950.30 299.17 L943.56 303.99 L945.94 295.92 L939.40 290.83 L947.61 290.65ZM974.30 282.69 L976.99 290.65 L985.20 290.83 L978.66 295.92 L981.04 303.99 L974.30 299.17 L967.56 303.99 L969.94 295.92 L963.40 290.83 L971.61 290.65ZM998.30 282.69 L1000.99 290.65 L1009.20 290.83 L1002.66 295.92 L1005.04 303.99 L998.30 299.17 L991.56 303.99 L993.94 295.92 L987.40 290.83 L995.61 290.65Z" fill="#f4f4f4"/><clipPath id="sc3"><rect x="888.3" y="280.69" width="67.76" height="25.3"/></clipPath><path d="M902.30 282.69 L904.99 290.65 L913.20 290.83 L906.66 295.92 L909.04 303.99 L902.30 299.17 L895.56 303.99 L897.94 295.92 L891.40 290.83 L899.61 290.65ZM926.30 282.69 L928.99 290.65 L937.20 290.83 L930.66 295.92 L933.04 303.99 L926.30 299.17 L919.56 303.99 L921.94 295.92 L915.40 290.83 L923.61 290.65ZM950.30 282.69 L952.99 290.65 L961.20 290.83 L954.66 295.92 L957.04 303.99 L950.30 299.17 L943.56 303.99 L945.94 295.92 L939.40 290.83 L947.61 290.65ZM974.30 282.69 L976.99 290.65 L985.20 290.83 L978.66 295.92 L981.04 303.99 L974.30 299.17 L967.56 303.99 L969.94 295.92 L963.40 290.83 L971.61 290.65ZM998.30 282.69 L1000.99 290.65 L1009.20 290.83 L1002.66 295.92 L1005.04 303.99 L998.30 299.17 L991.56 303.99 L993.94 295.92 L987.40 290.83 L995.61 290.65Z" fill="#f5b812" clip-path="url(#sc3)"/><path d="M902.30 316.08 L904.99 324.04 L913.20 324.22 L906.66 329.31 L909.04 337.38 L902.30 332.56 L895.56 337.38 L897.94 329.31 L891.40 324.22 L899.61 324.04ZM926.30 316.08 L928.99 324.04 L937.20 324.22 L930.66 329.31 L933.04 337.38 L926.30 332.56 L919.56 337.38 L921.94 329.31 L915.40 324.22 L923.61 324.04ZM950.30 316.08 L952.99 324.04 L961.20 324.22 L954.66 329.31 L957.04 337.38 L950.30 332.56 L943.56 337.38 L945.94 329.31 L939.40 324.22 L947.61 324.04ZM974.30 316.08 L976.99 324.04 L985.20 324.22 L978.66 329.31 L981.04 337.38 L974.30 332.56 L967.56 337.38 L969.94 329.31 L963.40 324.22 L971.61 324.04ZM998.30 316.08 L1000.99 324.04 L1009.20 324.22 L1002.66 329.31 L1005.04 337.38 L998.30 332.56 L991.56 337.38 L993.94 329.31 L987.40 324.22 L995.61 324.04Z" fill="#f4f4f4"/><clipPath id="sc4"><rect x="888.3" y="314.08000000000004" width="70.88" height="25.3"/></clipPath><path d="M902.30 316.08 L904.99 324.04 L913.20 324.22 L906.66 329.31 L909.04 337.38 L902.30 332.56 L895.56 337.38 L897.94 329.31 L891.40 324.22 L899.61 324.04ZM926.30 316.08 L928.99 324.04 L937.20 324.22 L930.66 329.31 L933.04 337.38 L926.30 332.56 L919.56 337.38 L921.94 329.31 L915.40 324.22 L923.61 324.04ZM950.30 316.08 L952.99 324.04 L961.20 324.22 L954.66 329.31 L957.04 337.38 L950.30 332.56 L943.56 337.38 L945.94 329.31 L939.40 324.22 L947.61 324.04ZM974.30 316.08 L976.99 324.04 L985.20 324.22 L978.66 329.31 L981.04 337.38 L974.30 332.56 L967.56 337.38 L969.94 329.31 L963.40 324.22 L971.61 324.04ZM998.30 316.08 L1000.99 324.04 L1009.20 324.22 L1002.66 329.31 L1005.04 337.38 L998.30 332.56 L991.56 337.38 L993.94 329.31 L987.40 324.22 L995.61 324.04Z" fill="#f5b812" clip-path="url(#sc4)"/><path d="M902.30 349.47 L904.99 357.43 L913.20 357.61 L906.66 362.70 L909.04 370.77 L902.30 365.95 L895.56 370.77 L897.94 362.70 L891.40 357.61 L899.61 357.43ZM926.30 349.47 L928.99 357.43 L937.20 357.61 L930.66 362.70 L933.04 370.77 L926.30 365.95 L919.56 370.77 L921.94 362.70 L915.40 357.61 L923.61 357.43ZM950.30 349.47 L952.99 357.43 L961.20 357.61 L954.66 362.70 L957.04 370.77 L950.30 365.95 L943.56 370.77 L945.94 362.70 L939.40 357.61 L947.61 357.43ZM974.30 349.47 L976.99 357.43 L985.20 357.61 L978.66 362.70 L981.04 370.77 L974.30 365.95 L967.56 370.77 L969.94 362.70 L963.40 357.61 L971.61 357.43ZM998.30 349.47 L1000.99 357.43 L1009.20 357.61 L1002.66 362.70 L1005.04 370.77 L998.30 365.95 L991.56 370.77 L993.94 362.70 L987.40 357.61 L995.61 357.43Z" fill="#f4f4f4"/><clipPath id="sc5"><rect x="888.3" y="347.47" width="71.12" height="25.3"/></clipPath><path d="M902.30 349.47 L904.99 357.43 L913.20 357.61 L906.66 362.70 L909.04 370.77 L902.30 365.95 L895.56 370.77 L897.94 362.70 L891.40 357.61 L899.61 357.43ZM926.30 349.47 L928.99 357.43 L937.20 357.61 L930.66 362.70 L933.04 370.77 L926.30 365.95 L919.56 370.77 L921.94 362.70 L915.40 357.61 L923.61 357.43ZM950.30 349.47 L952.99 357.43 L961.20 357.61 L954.66 362.70 L957.04 370.77 L950.30 365.95 L943.56 370.77 L945.94 362.70 L939.40 357.61 L947.61 357.43ZM974.30 349.47 L976.99 357.43 L985.20 357.61 L978.66 362.70 L981.04 370.77 L974.30 365.95 L967.56 370.77 L969.94 362.70 L963.40 357.61 L971.61 357.43ZM998.30 349.47 L1000.99 357.43 L1009.20 357.61 L1002.66 362.70 L1005.04 370.77 L998.30 365.95 L991.56 370.77 L993.94 362.70 L987.40 357.61 L995.61 357.43Z" fill="#f5b812" clip-path="url(#sc5)"/><path d="M902.30 382.86 L904.99 390.82 L913.20 391.00 L906.66 396.09 L909.04 404.16 L902.30 399.34 L895.56 404.16 L897.94 396.09 L891.40 391.00 L899.61 390.82ZM926.30 382.86 L928.99 390.82 L937.20 391.00 L930.66 396.09 L933.04 404.16 L926.30 399.34 L919.56 404.16 L921.94 396.09 L915.40 391.00 L923.61 390.82ZM950.30 382.86 L952.99 390.82 L961.20 391.00 L954.66 396.09 L957.04 404.16 L950.30 399.34 L943.56 404.16 L945.94 396.09 L939.40 391.00 L947.61 390.82ZM974.30 382.86 L976.99 390.82 L985.20 391.00 L978.66 396.09 L981.04 404.16 L974.30 399.34 L967.56 404.16 L969.94 396.09 L963.40 391.00 L971.61 390.82ZM998.30 382.86 L1000.99 390.82 L1009.20 391.00 L1002.66 396.09 L1005.04 404.16 L998.30 399.34 L991.56 404.16 L993.94 396.09 L987.40 391.00 L995.61 390.82Z" fill="#f4f4f4"/><clipPath id="sc6"><rect x="888.3" y="380.86" width="72.08" height="25.3"/></clipPath><path d="M902.30 382.86 L904.99 390.82 L913.20 391.00 L906.66 396.09 L909.04 404.16 L902.30 399.34 L895.56 404.16 L897.94 396.09 L891.40 391.00 L899.61 390.82ZM926.30 382.86 L928.99 390.82 L937.20 391.00 L930.66 396.09 L933.04 404.16 L926.30 399.34 L919.56 404.16 L921.94 396.09 L915.40 391.00 L923.61 390.82ZM950.30 382.86 L952.99 390.82 L961.20 391.00 L954.66 396.09 L957.04 404.16 L950.30 399.34 L943.56 404.16 L945.94 396.09 L939.40 391.00 L947.61 390.82ZM974.30 382.86 L976.99 390.82 L985.20 391.00 L978.66 396.09 L981.04 404.16 L974.30 399.34 L967.56 404.16 L969.94 396.09 L963.40 391.00 L971.61 390.82ZM998.30 382.86 L1000.99 390.82 L1009.20 391.00 L1002.66 396.09 L1005.04 404.16 L998.30 399.34 L991.56 404.16 L993.94 396.09 L987.40 391.00 L995.61 390.82Z" fill="#f5b812" clip-path="url(#sc6)"/><path d="M902.30 416.25 L904.99 424.21 L913.20 424.39 L906.66 429.48 L909.04 437.55 L902.30 432.73 L895.56 437.55 L897.94 429.48 L891.40 424.39 L899.61 424.21ZM926.30 416.25 L928.99 424.21 L937.20 424.39 L930.66 429.48 L933.04 437.55 L926.30 432.73 L919.56 437.55 L921.94 429.48 L915.40 424.39 L923.61 424.21ZM950.30 416.25 L952.99 424.21 L961.20 424.39 L954.66 429.48 L957.04 437.55 L950.30 432.73 L943.56 437.55 L945.94 429.48 L939.40 424.39 L947.61 424.21ZM974.30 416.25 L976.99 424.21 L985.20 424.39 L978.66 429.48 L981.04 437.55 L974.30 432.73 L967.56 437.55 L969.94 429.48 L963.40 424.39 L971.61 424.21ZM998.30 416.25 L1000.99 424.21 L1009.20 424.39 L1002.66 429.48 L1005.04 437.55 L998.30 432.73 L991.56 437.55 L993.94 429.48 L987.40 424.39 L995.61 424.21Z" fill="#f4f4f4"/><clipPath id="sc7"><rect x="888.3" y="414.25" width="73.04" height="25.3"/></clipPath><path d="M902.30 416.25 L904.99 424.21 L913.20 424.39 L906.66 429.48 L909.04 437.55 L902.30 432.73 L895.56 437.55 L897.94 429.48 L891.40 424.39 L899.61 424.21ZM926.30 416.25 L928.99 424.21 L937.20 424.39 L930.66 429.48 L933.04 437.55 L926.30 432.73 L919.56 437.55 L921.94 429.48 L915.40 424.39 L923.61 424.21ZM950.30 416.25 L952.99 424.21 L961.20 424.39 L954.66 429.48 L957.04 437.55 L950.30 432.73 L943.56 437.55 L945.94 429.48 L939.40 424.39 L947.61 424.21ZM974.30 416.25 L976.99 424.21 L985.20 424.39 L978.66 429.48 L981.04 437.55 L974.30 432.73 L967.56 437.55 L969.94 429.48 L963.40 424.39 L971.61 424.21ZM998.30 416.25 L1000.99 424.21 L1009.20 424.39 L1002.66 429.48 L1005.04 437.55 L998.30 432.73 L991.56 437.55 L993.94 429.48 L987.40 424.39 L995.61 424.21Z" fill="#f5b812" clip-path="url(#sc7)"/><path d="M902.30 449.64 L904.99 457.60 L913.20 457.78 L906.66 462.87 L909.04 470.94 L902.30 466.12 L895.56 470.94 L897.94 462.87 L891.40 457.78 L899.61 457.60ZM926.30 449.64 L928.99 457.60 L937.20 457.78 L930.66 462.87 L933.04 470.94 L926.30 466.12 L919.56 470.94 L921.94 462.87 L915.40 457.78 L923.61 457.60ZM950.30 449.64 L952.99 457.60 L961.20 457.78 L954.66 462.87 L957.04 470.94 L950.30 466.12 L943.56 470.94 L945.94 462.87 L939.40 457.78 L947.61 457.60ZM974.30 449.64 L976.99 457.60 L985.20 457.78 L978.66 462.87 L981.04 470.94 L974.30 466.12 L967.56 470.94 L969.94 462.87 L963.40 457.78 L971.61 457.60ZM998.30 449.64 L1000.99 457.60 L1009.20 457.78 L1002.66 462.87 L1005.04 470.94 L998.30 466.12 L991.56 470.94 L993.94 462.87 L987.40 457.78 L995.61 457.60Z" fill="#f4f4f4"/><clipPath id="sc8"><rect x="888.3" y="447.64" width="74.00" height="25.3"/></clipPath><path d="M902.30 449.64 L904.99 457.60 L913.20 457.78 L906.66 462.87 L909.04 470.94 L902.30 466.12 L895.56 470.94 L897.94 462.87 L891.40 457.78 L899.61 457.60ZM926.30 449.64 L928.99 457.60 L937.20 457.78 L930.66 462.87 L933.04 470.94 L926.30 466.12 L919.56 470.94 L921.94 462.87 L915.40 457.78 L923.61 457.60ZM950.30 449.64 L952.99 457.60 L961.20 457.78 L954.66 462.87 L957.04 470.94 L950.30 466.12 L943.56 470.94 L945.94 462.87 L939.40 457.78 L947.61 457.60ZM974.30 449.64 L976.99 457.60 L985.20 457.78 L978.66 462.87 L981.04 470.94 L974.30 466.12 L967.56 470.94 L969.94 462.87 L963.40 457.78 L971.61 457.60ZM998.30 449.64 L1000.99 457.60 L1009.20 457.78 L1002.66 462.87 L1005.04 470.94 L998.30 466.12 L991.56 470.94 L993.94 462.87 L987.40 457.78 L995.61 457.60Z" fill="#f5b812" clip-path="url(#sc8)"/><path d="M902.30 483.03 L904.99 490.99 L913.20 491.17 L906.66 496.26 L909.04 504.33 L902.30 499.51 L895.56 504.33 L897.94 496.26 L891.40 491.17 L899.61 490.99ZM926.30 483.03 L928.99 490.99 L937.20 491.17 L930.66 496.26 L933.04 504.33 L926.30 499.51 L919.56 504.33 L921.94 496.26 L915.40 491.17 L923.61 490.99ZM950.30 483.03 L952.99 490.99 L961.20 491.17 L954.66 496.26 L957.04 504.33 L950.30 499.51 L943.56 504.33 L945.94 496.26 L939.40 491.17 L947.61 490.99ZM974.30 483.03 L976.99 490.99 L985.20 491.17 L978.66 496.26 L981.04 504.33 L974.30 499.51 L967.56 504.33 L969.94 496.26 L963.40 491.17 L971.61 490.99ZM998.30 483.03 L1000.99 490.99 L1009.20 491.17 L1002.66 496.26 L1005.04 504.33 L998.30 499.51 L991.56 504.33 L993.94 496.26 L987.40 491.17 L995.61 490.99Z" fill="#f4f4f4"/><clipPath id="sc9"><rect x="888.3" y="481.03000000000003" width="76.88" height="25.3"/></clipPath><path d="M902.30 483.03 L904.99 490.99 L913.20 491.17 L906.66 496.26 L909.04 504.33 L902.30 499.51 L895.56 504.33 L897.94 496.26 L891.40 491.17 L899.61 490.99ZM926.30 483.03 L928.99 490.99 L937.20 491.17 L930.66 496.26 L933.04 504.33 L926.30 499.51 L919.56 504.33 L921.94 496.26 L915.40 491.17 L923.61 490.99ZM950.30 483.03 L952.99 490.99 L961.20 491.17 L954.66 496.26 L957.04 504.33 L950.30 499.51 L943.56 504.33 L945.94 496.26 L939.40 491.17 L947.61 490.99ZM974.30 483.03 L976.99 490.99 L985.20 491.17 L978.66 496.26 L981.04 504.33 L974.30 499.51 L967.56 504.33 L969.94 496.26 L963.40 491.17 L971.61 490.99ZM998.30 483.03 L1000.99 490.99 L1009.20 491.17 L1002.66 496.26 L1005.04 504.33 L998.30 499.51 L991.56 504.33 L993.94 496.26 L987.40 491.17 L995.61 490.99Z" fill="#f5b812" clip-path="url(#sc9)"/><path d="M902.30 516.42 L904.99 524.38 L913.20 524.56 L906.66 529.65 L909.04 537.72 L902.30 532.90 L895.56 537.72 L897.94 529.65 L891.40 524.56 L899.61 524.38ZM926.30 516.42 L928.99 524.38 L937.20 524.56 L930.66 529.65 L933.04 537.72 L926.30 532.90 L919.56 537.72 L921.94 529.65 L915.40 524.56 L923.61 524.38ZM950.30 516.42 L952.99 524.38 L961.20 524.56 L954.66 529.65 L957.04 537.72 L950.30 532.90 L943.56 537.72 L945.94 529.65 L939.40 524.56 L947.61 524.38ZM974.30 516.42 L976.99 524.38 L985.20 524.56 L978.66 529.65 L981.04 537.72 L974.30 532.90 L967.56 537.72 L969.94 529.65 L963.40 524.56 L971.61 524.38ZM998.30 516.42 L1000.99 524.38 L1009.20 524.56 L1002.66 529.65 L1005.04 537.72 L998.30 532.90 L991.56 537.72 L993.94 529.65 L987.40 524.56 L995.61 524.38Z" fill="#f4f4f4"/><clipPath id="sc10"><rect x="888.3" y="514.4200000000001" width="78.32" height="25.3"/></clipPath><path d="M902.30 516.42 L904.99 524.38 L913.20 524.56 L906.66 529.65 L909.04 537.72 L902.30 532.90 L895.56 537.72 L897.94 529.65 L891.40 524.56 L899.61 524.38ZM926.30 516.42 L928.99 524.38 L937.20 524.56 L930.66 529.65 L933.04 537.72 L926.30 532.90 L919.56 537.72 L921.94 529.65 L915.40 524.56 L923.61 524.38ZM950.30 516.42 L952.99 524.38 L961.20 524.56 L954.66 529.65 L957.04 537.72 L950.30 532.90 L943.56 537.72 L945.94 529.65 L939.40 524.56 L947.61 524.38ZM974.30 516.42 L976.99 524.38 L985.20 524.56 L978.66 529.65 L981.04 537.72 L974.30 532.90 L967.56 537.72 L969.94 529.65 L963.40 524.56 L971.61 524.38ZM998.30 516.42 L1000.99 524.38 L1009.20 524.56 L1002.66 529.65 L1005.04 537.72 L998.30 532.90 L991.56 537.72 L993.94 529.65 L987.40 524.56 L995.61 524.38Z" fill="#f5b812" clip-path="url(#sc10)"/><path d="M902.30 549.81 L904.99 557.77 L913.20 557.95 L906.66 563.04 L909.04 571.11 L902.30 566.29 L895.56 571.11 L897.94 563.04 L891.40 557.95 L899.61 557.77ZM926.30 549.81 L928.99 557.77 L937.20 557.95 L930.66 563.04 L933.04 571.11 L926.30 566.29 L919.56 571.11 L921.94 563.04 L915.40 557.95 L923.61 557.77ZM950.30 549.81 L952.99 557.77 L961.20 557.95 L954.66 563.04 L957.04 571.11 L950.30 566.29 L943.56 571.11 L945.94 563.04 L939.40 557.95 L947.61 557.77ZM974.30 549.81 L976.99 557.77 L985.20 557.95 L978.66 563.04 L981.04 571.11 L974.30 566.29 L967.56 571.11 L969.94 563.04 L963.40 557.95 L971.61 557.77ZM998.30 549.81 L1000.99 557.77 L1009.20 557.95 L1002.66 563.04 L1005.04 571.11 L998.30 566.29 L991.56 571.11 L993.94 563.04 L987.40 557.95 L995.61 557.77Z" fill="#f4f4f4"/><clipPath id="sc11"><rect x="888.3" y="547.81" width="80.96" height="25.3"/></clipPath><path d="M902.30 549.81 L904.99 557.77 L913.20 557.95 L906.66 563.04 L909.04 571.11 L902.30 566.29 L895.56 571.11 L897.94 563.04 L891.40 557.95 L899.61 557.77ZM926.30 549.81 L928.99 557.77 L937.20 557.95 L930.66 563.04 L933.04 571.11 L926.30 566.29 L919.56 571.11 L921.94 563.04 L915.40 557.95 L923.61 557.77ZM950.30 549.81 L952.99 557.77 L961.20 557.95 L954.66 563.04 L957.04 571.11 L950.30 566.29 L943.56 571.11 L945.94 563.04 L939.40 557.95 L947.61 557.77ZM974.30 549.81 L976.99 557.77 L985.20 557.95 L978.66 563.04 L981.04 571.11 L974.30 566.29 L967.56 571.11 L969.94 563.04 L963.40 557.95 L971.61 557.77ZM998.30 549.81 L1000.99 557.77 L1009.20 557.95 L1002.66 563.04 L1005.04 571.11 L998.30 566.29 L991.56 571.11 L993.94 563.04 L987.40 557.95 L995.61 557.77Z" fill="#f5b812" clip-path="url(#sc11)"/></svg>
<span class="t cl" style="left:828.90px;top:254px;font-size:10.6px;line-height:10.6px;color:#161616;transform:scaleX(0.9405);">Manager 2</span>
<div style="position:absolute;left:962.0px;top:253.8px;width:24.5px;height:11.5px;background:#fff"></div>
<span class="t" style="left:963.98px;top:256px;font-size:10.4px;line-height:10.4px;color:#404040;transform:scaleX(1.0085);">2.72</span>
<span class="t cl" style="left:828.90px;top:287px;font-size:10.6px;line-height:10.6px;color:#161616;transform:scaleX(0.9405);">Manager 8</span>
<div style="position:absolute;left:962.5px;top:287.2px;width:24.5px;height:11.5px;background:#fff"></div>
<span class="t" style="left:964.46px;top:289px;font-size:10.4px;line-height:10.4px;color:#404040;transform:scaleX(1.0085);">2.74</span>
<span class="t cl" style="left:828.90px;top:321px;font-size:10.6px;line-height:10.6px;color:#161616;transform:scaleX(0.9405);">Manager 6</span>
<div style="position:absolute;left:965.6px;top:320.6px;width:24.5px;height:11.5px;background:#fff"></div>
<span class="t" style="left:967.58px;top:322px;font-size:10.4px;line-height:10.4px;color:#404040;transform:scaleX(1.0085);">2.87</span>
<span class="t cl" style="left:828.90px;top:354px;font-size:10.6px;line-height:10.6px;color:#161616;transform:scaleX(0.9405);">Manager 7</span>
<div style="position:absolute;left:965.8px;top:354.0px;width:24.5px;height:11.5px;background:#fff"></div>
<span class="t" style="left:967.82px;top:356px;font-size:10.4px;line-height:10.4px;color:#404040;transform:scaleX(1.0085);">2.88</span>
<span class="t cl" style="left:828.90px;top:388px;font-size:10.6px;line-height:10.6px;color:#161616;transform:scaleX(0.9405);">Manager 5</span>
<div style="position:absolute;left:966.8px;top:387.4px;width:24.5px;height:11.5px;background:#fff"></div>
<span class="t" style="left:968.78px;top:389px;font-size:10.4px;line-height:10.4px;color:#404040;transform:scaleX(1.0085);">2.92</span>
<span class="t cl" style="left:828.90px;top:421px;font-size:10.6px;line-height:10.6px;color:#161616;transform:scaleX(0.9405);">Manager 9</span>
<div style="position:absolute;left:967.7px;top:420.8px;width:24.5px;height:11.5px;background:#fff"></div>
<span class="t" style="left:969.74px;top:422px;font-size:10.4px;line-height:10.4px;color:#404040;transform:scaleX(1.0085);">2.96</span>
<span class="t cl" style="left:822.80px;top:454px;font-size:10.6px;line-height:10.6px;color:#161616;transform:scaleX(0.9494);">Manager 10</span>
<div style="position:absolute;left:968.7px;top:454.1px;width:24.5px;height:11.5px;background:#fff"></div>
<span class="t" style="left:970.70px;top:456px;font-size:10.4px;line-height:10.4px;color:#404040;transform:scaleX(1.0085);">3.00</span>
<span class="t cl" style="left:828.90px;top:488px;font-size:10.6px;line-height:10.6px;color:#161616;transform:scaleX(0.9405);">Manager 1</span>
<div style="position:absolute;left:971.6px;top:487.5px;width:24.5px;height:11.5px;background:#fff"></div>
<span class="t" style="left:973.58px;top:489px;font-size:10.4px;line-height:10.4px;color:#404040;transform:scaleX(1.0085);">3.12</span>
<span class="t cl" style="left:828.90px;top:521px;font-size:10.6px;line-height:10.6px;color:#161616;transform:scaleX(0.9405);">Manager 4</span>
<div style="position:absolute;left:973.0px;top:520.9px;width:24.5px;height:11.5px;background:#fff"></div>
<span class="t" style="left:975.02px;top:523px;font-size:10.4px;line-height:10.4px;color:#404040;transform:scaleX(1.0085);">3.18</span>
<span class="t cl" style="left:828.90px;top:555px;font-size:10.6px;line-height:10.6px;color:#161616;transform:scaleX(0.9405);">Manager 3</span>
<div style="position:absolute;left:975.7px;top:554.3px;width:24.5px;height:11.5px;background:#fff"></div>
<span class="t" style="left:977.66px;top:556px;font-size:10.4px;line-height:10.4px;color:#404040;transform:scaleX(1.0085);">3.29</span>
<span class="t" style="left:393.70px;top:438px;font-size:12.8px;line-height:12.8px;color:#111;transform:scaleX(0.9632);">Payment Variance USD by Region</span>
<svg width="1210" height="612" viewBox="0 0 1210 612"><defs><linearGradient id="gArea" gradientUnits="userSpaceOnUse" x1="0" x2="0" y1="474" y2="564.1"><stop offset="0" stop-color="#f8fbfe"/><stop offset=".2" stop-color="#e9f0f7"/><stop offset=".4" stop-color="#d4dfe9"/><stop offset=".55" stop-color="#b6c5d1"/><stop offset=".72" stop-color="#7e94a6"/><stop offset=".88" stop-color="#3c5a71"/><stop offset="1" stop-color="#153147"/></linearGradient></defs><path d="M221.7 535.65 H790.2" stroke="#d9d9d9" stroke-width="1"/><path d="M221.7 507.20 H790.2" stroke="#d9d9d9" stroke-width="1"/><path d="M221.7 478.75 H790.2" stroke="#d9d9d9" stroke-width="1"/><path d="M221.7 450.30 H790.2" stroke="#d9d9d9" stroke-width="1"/><path d="M363.8 450.30 V564.1" stroke="#d9d9d9" stroke-width="1"/><path d="M506.1 450.30 V564.1" stroke="#d9d9d9" stroke-width="1"/><path d="M648.2 450.30 V564.1" stroke="#d9d9d9" stroke-width="1"/><path d="M790.2 450.30 V564.1" stroke="#d9d9d9" stroke-width="1"/><path d="M221.7 450.30 V564.1" stroke="#9090a6" stroke-width="1.3"/><path d="M218.2 564.10 H221.7" stroke="#c8c8c8" stroke-width="1"/><path d="M218.2 535.65 H221.7" stroke="#c8c8c8" stroke-width="1"/><path d="M218.2 507.20 H221.7" stroke="#c8c8c8" stroke-width="1"/><path d="M218.2 478.75 H221.7" stroke="#c8c8c8" stroke-width="1"/><path d="M218.2 450.30 H221.7" stroke="#c8c8c8" stroke-width="1"/><path d="M221.7 474.0 L363.8 504.6 L506.1 507.9 L648.2 509.0 L790.2 521.5 L790.2 564.1 L221.7 564.1 Z" fill="url(#gArea)"/><path d="M363.8 450.30 V564.1" stroke="#8a98a4" stroke-width="0.8" opacity=".35"/><path d="M506.1 450.30 V564.1" stroke="#8a98a4" stroke-width="0.8" opacity=".35"/><path d="M648.2 450.30 V564.1" stroke="#8a98a4" stroke-width="0.8" opacity=".35"/><path d="M221.7 535.65 H790.2" stroke="#fff" stroke-width="1" opacity=".13"/><path d="M221.7 507.20 H790.2" stroke="#fff" stroke-width="1" opacity=".13"/><path d="M221.7 474.0 L363.8 504.6 L506.1 507.9 L648.2 509.0 L790.2 521.5" fill="none" stroke="#1c3649" stroke-width="1.7" stroke-linejoin="round"/><path d="M221.7 474.0 V564.1 M790.2 521.5 V564.1" stroke="#1c3649" stroke-width="1.2"/><path d="M221.7 564.1 H790.2" stroke="#14293a" stroke-width="1"/><path d="M221.7 564.1 V567.6" stroke="#9a9a9a" stroke-width="1"/><path d="M363.8 564.1 V567.6" stroke="#9a9a9a" stroke-width="1"/><path d="M506.1 564.1 V567.6" stroke="#9a9a9a" stroke-width="1"/><path d="M648.2 564.1 V567.6" stroke="#9a9a9a" stroke-width="1"/><path d="M790.2 564.1 V567.6" stroke="#9a9a9a" stroke-width="1"/><path d="M353.3 492.5 L363.4 504" stroke="#b5b5b5" stroke-width="1"/><path d="M499.4 489 L505.8 507" stroke="#b5b5b5" stroke-width="1"/><path d="M637.6 495 L647.8 508.3" stroke="#b5b5b5" stroke-width="1"/><path d="M780.1 501.5 L789.8 520.8" stroke="#b5b5b5" stroke-width="1"/></svg>
<span class="t cl" style="left:201.10px;top:561px;font-size:9.2px;line-height:9.2px;color:#1a1a1a;transform:scaleX(0.9988);">$0</span>
<span class="t cl" style="left:182.10px;top:532px;font-size:9.2px;line-height:9.2px;color:#1a1a1a;transform:scaleX(0.9842);">$50.0K</span>
<span class="t cl" style="left:176.60px;top:504px;font-size:9.2px;line-height:9.2px;color:#1a1a1a;transform:scaleX(0.9978);">$100.0K</span>
<span class="t cl" style="left:176.60px;top:475px;font-size:9.2px;line-height:9.2px;color:#1a1a1a;transform:scaleX(0.9978);">$150.0K</span>
<span class="t cl" style="left:176.60px;top:447px;font-size:9.2px;line-height:9.2px;color:#1a1a1a;transform:scaleX(0.9978);">$200.0K</span>
<span class="t cl" style="left:227.40px;top:458px;font-size:9.2px;line-height:9.2px;color:#1a1a1a;transform:scaleX(1.0323);">$158.3K</span>
<span class="t cl" style="left:335.60px;top:481px;font-size:9.2px;line-height:9.2px;color:#1a1a1a;transform:scaleX(1.0179);">$104.5K</span>
<span class="t cl" style="left:484.60px;top:477px;font-size:9.2px;line-height:9.2px;color:#1a1a1a;transform:scaleX(1.0415);">$98.7K</span>
<span class="t cl" style="left:622.20px;top:483px;font-size:9.2px;line-height:9.2px;color:#1a1a1a;transform:scaleX(1.0212);">$96.9K</span>
<span class="t cl" style="left:764.70px;top:490px;font-size:9.2px;line-height:9.2px;color:#1a1a1a;transform:scaleX(1.0212);">$74.9K</span>
<span class="t cl" style="left:209.90px;top:573px;font-size:9.6px;line-height:9.6px;color:#1a1a1a;transform:scaleX(0.9146);">North</span>
<span class="t cl" style="left:353.30px;top:573px;font-size:9.6px;line-height:9.6px;color:#1a1a1a;transform:scaleX(0.9494);">West</span>
<span class="t cl" style="left:489.60px;top:573px;font-size:9.6px;line-height:9.6px;color:#1a1a1a;transform:scaleX(1.0039);">Central</span>
<span class="t cl" style="left:638.95px;top:573px;font-size:9.6px;line-height:9.6px;color:#1a1a1a;transform:scaleX(0.9331);">East</span>
<span class="t cl" style="left:777.55px;top:573px;font-size:9.6px;line-height:9.6px;color:#1a1a1a;transform:scaleX(0.9296);">South</span>
<svg width="1210" height="612" viewBox="0 0 1210 612"><g transform="translate(182.9 107)"><rect x="1" y="3.6" width="18.2" height="23.8" fill="#e9f0f7" stroke="#5d7385" stroke-width="1.9"/><path d="M6.2 3.4 L10.1 0.4 L14 3.4 Z" fill="#9fb0bd" stroke="#5d7385" stroke-width="0.8" stroke-linejoin="round"/><rect x="6.6" y="2.5" width="7.2" height="2.7" rx="1.1" fill="#f4f8fb" stroke="#5d7385" stroke-width="0.7"/><circle cx="5.9" cy="9.1" r="1.75" fill="#55697a"/><circle cx="5.9" cy="9.1" r="0.7" fill="#a9b9c6"/><path d="M9.4 9.1 H16.4" stroke="#5d7385" stroke-width="1.5"/><circle cx="5.9" cy="13.75" r="1.75" fill="#55697a"/><circle cx="5.9" cy="13.75" r="0.7" fill="#a9b9c6"/><path d="M9.4 13.75 H16.4" stroke="#5d7385" stroke-width="1.5"/><circle cx="5.9" cy="18.4" r="1.75" fill="#55697a"/><circle cx="5.9" cy="18.4" r="0.7" fill="#a9b9c6"/><path d="M9.4 18.4 H16.4" stroke="#5d7385" stroke-width="1.5"/><circle cx="5.9" cy="23.05" r="1.75" fill="#55697a"/><circle cx="5.9" cy="23.05" r="0.7" fill="#a9b9c6"/><path d="M9.4 23.05 H16.4" stroke="#5d7385" stroke-width="1.5"/></g><g fill="none" stroke="#5f7c8f" stroke-width="0.9" stroke-linejoin="round"><path d="M349.8 120.2 L357.4 126.6 L370.8 119.3 L370.8 117 L357.4 124.2 L349.8 118 Z" fill="#9db4c3"/><path d="M349.8 118 L357.4 124.2 L370.8 117 L364 111.6 Z" fill="#c3d3de"/><path d="M356.5 118.5 L361 114 L366.5 117.5 L361.5 121.5Z" fill="#7f9db2" stroke="#6a8799"/><rect x="349.6" y="112.4" width="7" height="5.6" fill="#7c9bb0"/><path d="M349.6 114.3 H356.6 M349.6 116.2 H356.6" stroke="#dbe6ee" stroke-width="0.8"/><circle cx="353.3" cy="108.8" r="3.3" fill="#eef3f7" stroke="#6a8799" stroke-width="1.1"/><path d="M353.3 107 V110.6" stroke="#5f7c8f" stroke-width="0.9"/><circle cx="367.6" cy="113.6" r="3.9" fill="#dfe8ef" stroke="#5f7c8f" stroke-width="1.2"/><path d="M365.6 109.6 L366.4 106.8 H369 L369.8 109.6" fill="#9db4c3" stroke-width="1"/><path d="M367.6 111.6 V115.6" stroke="#5f7c8f" stroke-width="0.9"/></g><g><circle cx="525.6" cy="112.2" r="3.5" fill="#4f748d"/><circle cx="525.2" cy="112" r="1.5" fill="#cfe3f0"/><circle cx="531.6" cy="113.8" r="4.3" fill="#55798f"/><circle cx="531.6" cy="113.8" r="2.4" fill="#9fc0d4"/><path d="M531.6 111.8 V115.8" stroke="#3f647c" stroke-width="1"/><rect x="521.3" y="119.4" width="3" height="6" fill="#fff" stroke="#8b8f93" stroke-width="1"/><path d="M525 120.3 H528.8 Q530.5 120.3 531.8 121.4 H535 L539.2 119.6 Q540.3 120.4 539.4 121.3 L533.4 125 Q531 126.3 528.5 125.6 L525 124.8" fill="#fbfcfd" stroke="#8b8f93" stroke-width="1" stroke-linejoin="round"/><path d="M530.5 122.9 H534.6" stroke="#8b8f93" stroke-width="1"/></g><g><path d="M694.6 111.3 H699.6 L698.8 113.2 H695.4 Z" fill="#1f3f58"/><rect x="695.3" y="113" width="3.6" height="3" fill="#4d7491"/><circle cx="697" cy="119.6" r="3.95" fill="#2f5c7e"/><circle cx="697" cy="119.6" r="2.5" fill="#5d87a6"/><circle cx="695.9" cy="119.4" r="0.7" fill="#1f3f58"/><circle cx="698.2" cy="119.4" r="0.7" fill="#1f3f58"/><rect x="701.6" y="118" width="9.6" height="5.5" fill="#cfe8f8"/><rect x="702" y="117.6" width="2" height="6" fill="#2c4a60"/><rect x="705.4" y="115.2" width="2" height="8.4" fill="#2c4a60"/><rect x="708.8" y="112.6" width="2.2" height="11" fill="#2c4a60"/><path d="M701 123.6 H711.6" stroke="#2c4a60" stroke-width="1.1"/><path d="M701.2 114.6 Q706 112.6 709.6 109.2" stroke="#a5a5a5" stroke-width="0.9" fill="none"/><path d="M708.3 108.6 L710.4 108.4 L710 110.5Z" fill="#a5a5a5"/></g></svg>
</div>
</body></html>
